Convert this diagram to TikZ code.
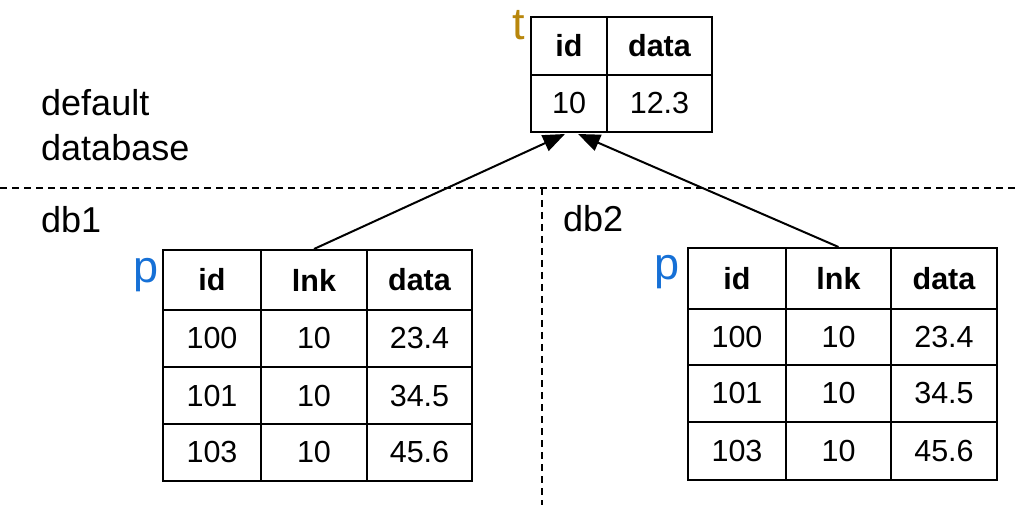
\documentclass[tikz,border=0pt]{standalone}
\usepackage{fontspec}
\setmainfont{Liberation Sans}
\usetikzlibrary{arrows.meta}
\definecolor{tcol}{RGB}{184,134,11}
\definecolor{pcol}{RGB}{22,112,214}
\begin{document}
\begin{tikzpicture}[x=1pt,y=-1pt,
  cell/.style={draw, line width=2pt, inner sep=0pt, font=\fontsize{30.5}{34}\selectfont},
  hcell/.style={cell, font=\fontsize{30.5}{34}\selectfont\bfseries},
  lbl/.style={inner sep=0pt, font=\fontsize{36}{45}\selectfont, align=left},
  big/.style={inner sep=0pt, font=\fontsize{45}{50}\selectfont},
  conn/.style={line width=2pt, -{Triangle[length=22pt,width=17pt]}},
  sep/.style={line width=1.5pt, dash pattern=on 7pt off 5pt}]
\useasboundingbox (0,0) rectangle (1017,510);
% top table t
\node[hcell, minimum width=76pt, minimum height=58pt] (tid) at (569,46) {id};
\node[hcell, minimum width=105pt, minimum height=58pt] (tdata) at (659.5,46) {data};
\node[cell, minimum width=76pt, minimum height=57pt] (t10) at (569,103.5) {10};
\node[cell, minimum width=105pt, minimum height=57pt] (t123) at (659.5,103.5) {12.3};
% left table p
\node[hcell, minimum width=98pt, minimum height=60pt] (Lid) at (212,280) {id};
\node[hcell, minimum width=106pt, minimum height=60pt] (Llnk) at (314,280) {lnk};
\node[hcell, minimum width=105pt, minimum height=60pt] (Ldata) at (419.5,280) {data};
\foreach \n/\cy/\h/\xa/\xb/\xc in {1/338.5/57/100/10/23.4, 2/395.5/57/101/10/34.5, 3/452.5/57/103/10/45.6} {
  \node[cell, minimum width=98pt, minimum height=\h pt] (L\n a) at (212,\cy) {\xa};
  \node[cell, minimum width=106pt, minimum height=\h pt] (L\n b) at (314,\cy) {\xb};
  \node[cell, minimum width=105pt, minimum height=\h pt] (L\n c) at (419.5,\cy) {\xc};
}
% right table p
\node[hcell, minimum width=98pt, minimum height=61pt] (Rid) at (737,278.5) {id};
\node[hcell, minimum width=105pt, minimum height=61pt] (Rlnk) at (838.5,278.5) {lnk};
\node[hcell, minimum width=106pt, minimum height=61pt] (Rdata) at (944,278.5) {data};
\foreach \n/\cy/\h/\xa/\xb/\xc in {1/337/56/100/10/23.4, 2/393.5/57/101/10/34.5, 3/451/58/103/10/45.6} {
  \node[cell, minimum width=98pt, minimum height=\h pt] (R\n a) at (737,\cy) {\xa};
  \node[cell, minimum width=105pt, minimum height=\h pt] (R\n b) at (838.5,\cy) {\xb};
  \node[cell, minimum width=106pt, minimum height=\h pt] (R\n c) at (944,\cy) {\xc};
}
% labels
\node[big, text=tcol, anchor=base east] (tl) at (525,40) {t};
\node[big, text=pcol, anchor=base east] (pl) at (159,283) {p};
\node[big, text=pcol, anchor=base east] (pr) at (680,280) {p};
\node[lbl, anchor=north west] (def) at (41,89) {default\\database};
\node[lbl, anchor=base west] (db1) at (41,233) {db1};
\node[lbl, anchor=base west] (db2) at (563,232) {db2};
% separators
\coordinate (hl) at (0,188);
\coordinate (hr) at (1017,188);
\coordinate (vt) at (542,188);
\coordinate (vb) at (542,505);
\draw[sep] (hl) -- (hr);
\draw[sep] (vt) -- (vb);
% connectors
\draw[conn] (Llnk.north) -- ([xshift=-4pt,yshift=-1pt]t10.south);
\draw[conn] (Rlnk.north) -- ([xshift=9pt,yshift=-1pt]t10.south);
\end{tikzpicture}
\end{document}
